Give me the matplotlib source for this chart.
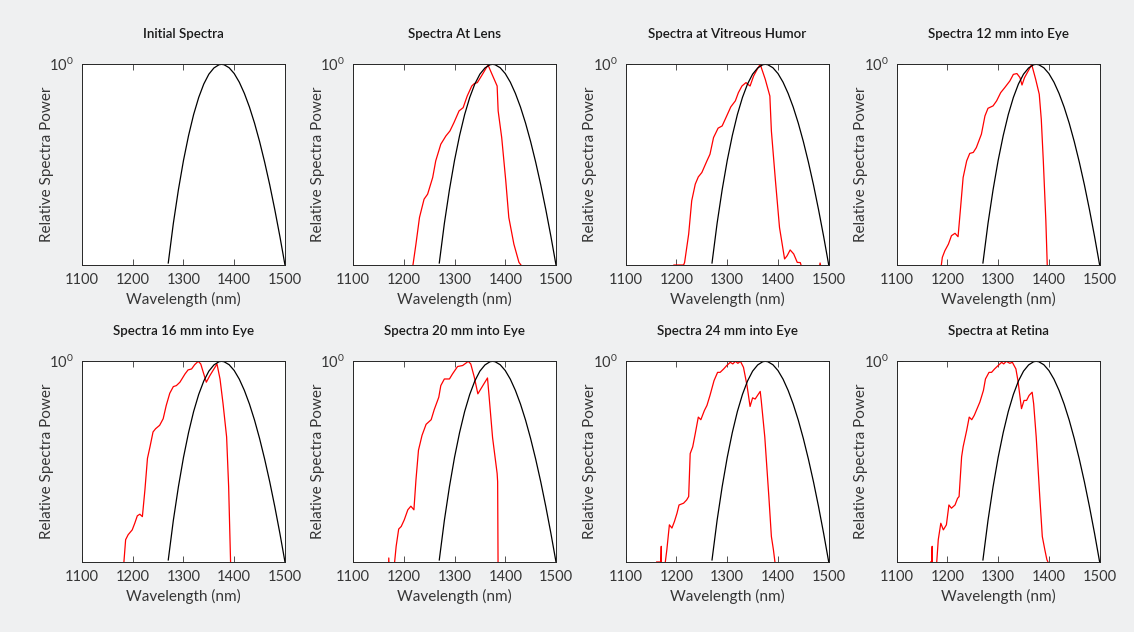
import matplotlib
matplotlib.use("Agg")
import matplotlib.pyplot as plt
import numpy as np
from matplotlib.ticker import NullLocator

plt.rcParams['font.family'] = ['Lato', 'DejaVu Sans']

# wavelengths in nm, power stored as log10 of relative power
titles = ['Initial Spectra', 'Spectra At Lens', 'Spectra at Vitreous Humor', 'Spectra 12 mm into Eye',
          'Spectra 16 mm into Eye', 'Spectra 20 mm into Eye', 'Spectra 24 mm into Eye', 'Spectra at Retina']

init_wl = [1270, 1280, 1290, 1300, 1310, 1320, 1330, 1340, 1350, 1360, 1370, 1375,
           1380, 1390, 1400, 1410, 1420, 1430, 1440, 1450, 1460, 1470, 1480, 1490, 1500]
init_lp = [-0.99, -0.793, -0.625, -0.479, -0.355, -0.250, -0.165, -0.098, -0.049, -0.018, -0.002, 0.0,
           -0.002, -0.017, -0.046, -0.089, -0.145, -0.213, -0.293, -0.385, -0.488, -0.601, -0.725, -0.858, -1.0]

lens_wl = [1217, 1224, 1231, 1240, 1247, 1257, 1263, 1273, 1283, 1291, 1299, 1309, 1317, 1325,
           1334, 1339, 1345, 1355, 1366, 1374, 1384, 1386, 1393, 1401, 1407, 1417, 1427, 1437]
lens_lp = [-1.02, -0.896, -0.763, -0.672, -0.647, -0.564, -0.481, -0.398, -0.357, -0.332, -0.290, -0.232,
           -0.216, -0.158, -0.108, -0.096, -0.091, -0.050, -0.003, -0.050, -0.108, -0.232, -0.365, -0.580,
           -0.763, -0.896, -0.987, -1.02]

vitr_wl = [1195, 1214, 1216, 1224, 1230, 1237, 1243, 1250, 1260, 1266, 1273, 1282, 1290, 1299, 1307,
           1316, 1322, 1329, 1337, 1341, 1345, 1352, 1359, 1365, 1375, 1384, 1387, 1395, 1403, 1413,
           1418, 1424, 1431, 1438, 1444, 1449, 1480, 1483, 1486]
vitr_lp = [-1.0, -1.0, -0.987, -0.846, -0.68, -0.597, -0.561, -0.539, -0.481, -0.448, -0.365, -0.318,
           -0.307, -0.257, -0.212, -0.182, -0.141, -0.108, -0.091, -0.100, -0.108, -0.058, -0.025, 0.0,
           -0.075, -0.158, -0.332, -0.580, -0.813, -0.970, -0.954, -0.925, -0.945, -0.987, -0.988,
           -1.03, -1.03, -0.99, -1.03]

mm12_wl = [1187, 1190, 1195, 1202, 1208, 1215, 1221, 1226, 1231, 1238, 1244, 1251, 1257, 1267, 1274,
           1280, 1290, 1297, 1305, 1313, 1323, 1330, 1337, 1343, 1347, 1352, 1361, 1366, 1374, 1381,
           1385, 1389, 1394, 1397]
mm12_lp = [-1.02, -0.962, -0.929, -0.896, -0.854, -0.842, -0.859, -0.713, -0.564, -0.481, -0.444, -0.439,
           -0.415, -0.348, -0.257, -0.219, -0.207, -0.182, -0.141, -0.116, -0.083, -0.050, -0.046, -0.066,
           -0.103, -0.066, -0.025, 0.0, -0.075, -0.149, -0.274, -0.481, -0.779, -1.02]

mm16_wl = [1182, 1186, 1191, 1199, 1204, 1209, 1214, 1219, 1224, 1229, 1234, 1240, 1245, 1253, 1260,
           1266, 1273, 1280, 1286, 1293, 1303, 1309, 1316, 1322, 1329, 1334, 1339, 1345, 1352, 1362,
           1366, 1372, 1378, 1385, 1389, 1393]
mm16_lp = [-1.02, -0.889, -0.864, -0.840, -0.807, -0.770, -0.762, -0.774, -0.641, -0.484, -0.426, -0.352,
           -0.336, -0.319, -0.286, -0.220, -0.159, -0.126, -0.121, -0.104, -0.063, -0.043, -0.038, -0.017,
           0.0, -0.013, -0.055, -0.104, -0.071, -0.030, -0.013, -0.088, -0.212, -0.377, -0.625, -1.02]

mm20_wl = [1169, 1170.5, 1172, 1181, 1182, 1185, 1190, 1195, 1201, 1208, 1214, 1220, 1224, 1229, 1236,
           1244, 1254, 1260, 1269, 1273, 1280, 1290, 1296, 1306, 1316, 1322, 1327, 1332, 1339, 1346,
           1352, 1358, 1365, 1368, 1375, 1384, 1385, 1386]
mm20_lp = [-1.1, -0.98, -1.1, -1.1, -1.0, -0.922, -0.836, -0.823, -0.790, -0.740, -0.722, -0.740, -0.592,
           -0.443, -0.369, -0.314, -0.291, -0.241, -0.179, -0.121, -0.088, -0.088, -0.063, -0.026, -0.021,
           -0.010, 0.0, -0.013, -0.079, -0.162, -0.137, -0.112, -0.083, -0.170, -0.38, -0.559, -0.60, -1.1]

mm24_wl = [1161, 1169, 1170, 1171, 1177, 1178, 1181, 1186, 1191, 1196, 1201, 1205, 1214, 1220, 1224,
           1227, 1232, 1237, 1243, 1248, 1255, 1260, 1266, 1274, 1281, 1286, 1293, 1299, 1306, 1311,
           1316, 1321, 1326, 1332, 1339, 1345, 1350, 1355, 1361, 1365, 1367, 1374, 1382, 1387, 1391, 1395]
mm24_lp = [-1.0, -1.0, -0.922, -1.2, -1.2, -1.0, -0.939, -0.815, -0.831, -0.798, -0.757, -0.716, -0.707,
           -0.691, -0.674, -0.460, -0.426, -0.360, -0.278, -0.291, -0.245, -0.220, -0.170, -0.096, -0.055,
           -0.055, -0.038, -0.021, -0.005, -0.013, 0.0, -0.010, 0.0, -0.030, -0.121, -0.225, -0.182,
           -0.188, -0.165, -0.150, -0.195, -0.377, -0.674, -0.873, -0.939, -1.02]

ret_wl = [1167, 1169, 1170, 1171, 1178, 1179, 1182, 1187, 1192, 1198, 1203, 1208, 1215, 1220, 1223,
          1228, 1231, 1238, 1243, 1248, 1253, 1257, 1264, 1271, 1275, 1282, 1287, 1293, 1300, 1307,
          1311, 1316, 1323, 1328, 1335, 1339, 1346, 1351, 1356, 1361, 1367, 1370, 1375, 1382, 1387,
          1392, 1396, 1402]
ret_lp = [-1.0, -1.0, -0.922, -1.2, -1.2, -1.0, -0.889, -0.807, -0.840, -0.815, -0.716, -0.732, -0.716,
          -0.683, -0.674, -0.476, -0.426, -0.344, -0.278, -0.291, -0.269, -0.245, -0.203, -0.145, -0.088,
          -0.055, -0.055, -0.038, -0.021, -0.005, -0.013, 0.0, -0.010, -0.005, -0.038, -0.096, -0.236,
          -0.195, -0.195, -0.170, -0.154, -0.212, -0.377, -0.674, -0.873, -0.939, -0.988, -1.02]

red_data = [None, (lens_wl, lens_lp), (vitr_wl, vitr_lp), (mm12_wl, mm12_lp),
            (mm16_wl, mm16_lp), (mm20_wl, mm20_lp), (mm24_wl, mm24_lp), (ret_wl, ret_lp)]

fig = plt.figure(figsize=(11.34, 6.32), dpi=100, facecolor='#eff0f1')

lefts = [0.0723, 0.3113, 0.5518, 0.7907]
bottoms = [0.5807, 0.1108]
txt = '#363636'

for i in range(8):
    r, c = divmod(i, 4)
    ax = fig.add_axes([lefts[c], bottoms[r], 0.179, 0.3175])
    ax.set_facecolor('white')

    if red_data[i] is not None:
        wl, lp = red_data[i]
        ax.semilogy(wl, 10 ** np.array(lp), color='#ff0000', lw=0.9)
    ax.semilogy(init_wl, 10 ** np.array(init_lp), color='black', lw=0.9)

    ax.set_xlim(1100, 1500)
    ax.set_ylim(0.1, 1)
    ax.set_xticks([1100, 1200, 1300, 1400, 1500])
    ax.set_yticks([1])
    ax.yaxis.set_minor_locator(NullLocator())
    ax.tick_params(direction='in', length=4, width=0.6, colors=txt, labelsize=10.5,
                   top=True, right=True, pad=6)
    for s in ax.spines.values():
        s.set_color('#262626')
        s.set_linewidth(0.7)

    ax.set_xlabel('Wavelength (nm)', fontsize=11, color=txt, labelpad=3)
    ax.set_ylabel('Relative Spectra Power', fontsize=11, color=txt)
    ax.yaxis.set_label_coords(-0.14, 0.5)
    ax.set_title(titles[i], fontsize=9.6, color='#1a1a1a', fontweight='semibold', pad=19)

fig.savefig('out.png', dpi=100, facecolor=fig.get_facecolor())
